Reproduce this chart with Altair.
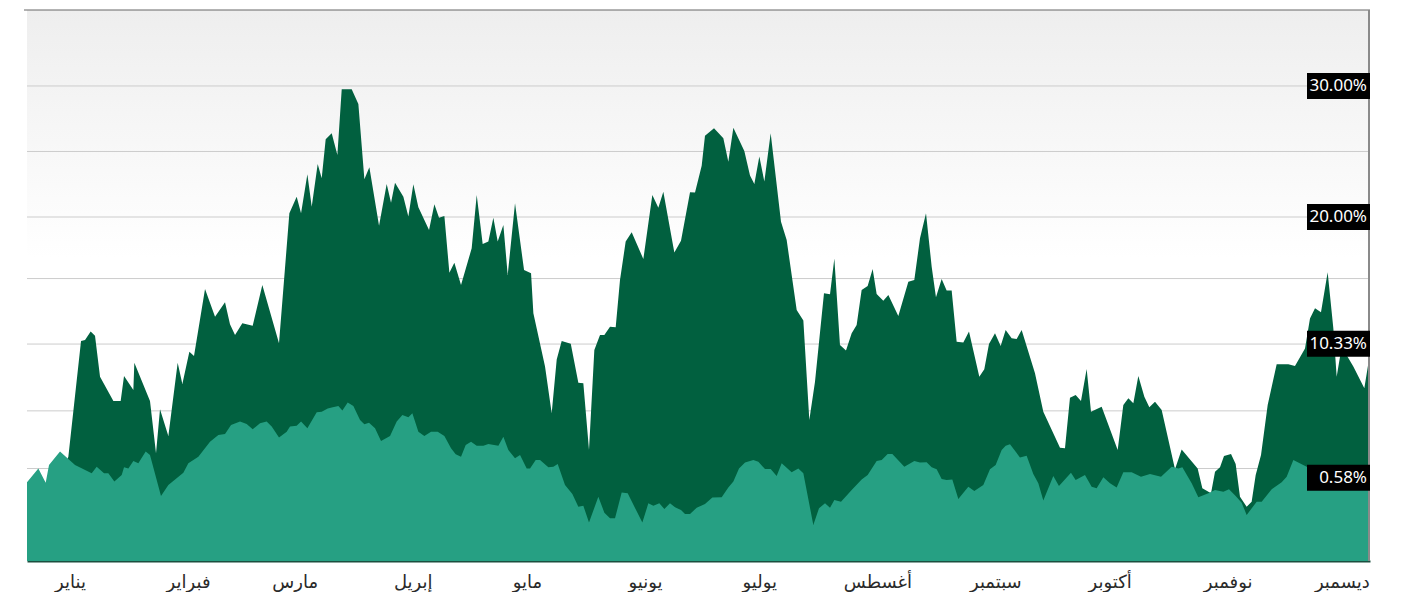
import altair as alt
import pandas as pd

# ---------------- data ----------------
dark_day = [3.7, 8.61, 13.68, 14.56, 17.89, 18.94, 20.42, 21.56, 22.88, 26.38, 28.30, 29.18,
            31.63, 31.89, 36.0, 37.58, 38.63, 40.82, 43.27, 44.5, 46.34, 47.56, 50.45, 53.08,
            55.70, 57.01, 58.33, 60.25, 62.97, 65.50, 69.88, 72.60, 74.52, 75.67, 77.33, 78.47,
            80.04, 81.09, 82.14, 83.72, 85.21, 86.35, 88.97, 90.72, 92.30, 93.61, 96.15, 98.16,
            99.30, 100.35, 102.54, 103.85, 105.16, 106.48, 109.28, 110.68, 111.91, 113.31, 114.62,
            115.93, 117.68, 120.48, 121.80, 123.37, 124.86, 126.17, 127.31, 128.80, 129.94, 131.86,
            134.23, 136.07, 136.68, 139.74, 141.49, 142.81, 144.12, 146.5, 148.49, 149.80, 151.29,
            152.69, 154.18, 155.32, 156.81, 158.30, 159.43, 160.92, 162.50, 165.56, 167.92, 169.50,
            170.81, 173.70, 175.45, 177.82, 179.13, 180.88, 181.75, 184.12, 186.57, 187.88, 189.20,
            192.08, 193.57, 194.71, 196.02, 197.34, 199.0, 201.71, 203.20, 205.83, 207.58, 209.15,
            210.64, 213.0, 214.58, 215.72, 217.20, 218.78, 220.27, 221.58, 222.89, 224.47, 225.78,
            226.83, 228.58, 229.90, 232.52, 235.15, 236.72, 238.21, 239.79, 241.28, 242.41, 243.90,
            245.21, 246.53, 247.84, 249.59, 251.08, 253.79, 255.10, 256.33, 257.91, 259.40, 260.71,
            262.28, 263.60, 264.91, 268.41, 270.60, 274.98, 276.29, 277.60, 279.09, 280.49, 281.98,
            283.12, 285.92, 290.13, 291.61, 292.93, 294.24, 295.55, 297.13, 298.44, 299.93, 301.68,
            305.18, 306.93, 311.13, 312.36, 314.64, 315.69, 317.0, 318.05, 319.89, 321.11, 322.25,
            324.0, 325.31, 326.37, 327.77, 329.52, 331.88, 334.94, 336.69, 339.32, 340.63, 341.95,
            343.52, 345.27, 346.76, 347.64, 348.95, 352.01, 354.90, 356.39]
dark_val = [-1.0, -1.0, 1.0, 1.70, 10.53, 10.61, 11.25, 10.94, 7.81, 5.95, 5.95, 7.86,
            6.79, 8.88, 5.95, 1.96, 5.32, 3.28, 8.88, 7.25, 9.72, 9.39, 14.50, 12.39,
            13.49, 11.81, 10.99, 11.88, 11.70, 14.81, 10.36, 20.28, 21.55, 20.28, 23.26, 20.79,
            24.05, 22.95, 25.93, 26.39, 24.73, 29.75, 29.75, 28.63, 22.88, 23.79, 19.34, 22.52,
            21.09, 22.62, 21.55, 20.03, 22.50, 20.74, 19.01, 20.97, 19.95, 20.08, 15.75,
            16.51, 14.81, 17.61, 21.68, 17.94, 18.12, 19.95, 18.12, 19.39, 15.57, 21.04,
            15.95, 15.70, 12.65, 8.58, 5.01, 9.13, 10.53, 10.33, 7.35, 7.30, 2.21,
            9.85, 11.0, 11.0, 11.63, 11.58, 15.19, 18.12, 18.83, 16.79, 21.68, 20.71,
            21.93, 17.28, 18.19, 21.88, 21.86, 23.92, 26.21, 26.77, 26.01, 24.22, 26.82,
            25.04, 23.16, 22.52, 24.61, 22.70, 26.39, 19.64, 18.24, 12.90, 12.09, 4.50,
            7.43, 14.17, 14.10, 16.84, 10.23, 9.80, 11.12, 11.76, 14.43, 14.73, 16.03,
            14.12, 13.61, 14.05, 12.44, 15.06, 15.19, 18.37, 20.28, 16.21, 13.87, 15.27,
            14.38, 14.38, 10.48, 10.41, 11.25, 7.81, 8.37, 10.31, 11.12, 10.15, 11.38,
            10.74, 10.69, 11.38, 8.07, 5.14, 2.39, 2.34, 6.21, 6.41, 5.95, 8.40,
            5.14, 5.52, 2.21, 5.65, 6.16, 5.78, 7.86, 6.28, 5.47, 5.90, 5.27,
            0.74, 2.26, 0.81, -0.71, -1.09, 0.56, 0.89, 1.76, 1.91, 1.15, -1.35,
            -2.11, -1.73, 0.31, 1.83, 5.65, 8.75, 8.75, 8.63, 9.97, 12.26, 13.03,
            12.72, 15.78, 11.50, 7.81, 10.10, 8.58, 6.92, 9.6]

light_day = [3.7, 6.68, 8.61, 9.48, 12.37, 16.31, 20.69, 22.0, 23.93, 25.06, 26.64, 28.57, 29.18,
             30.32, 31.63, 32.94, 34.87, 36.0, 38.89, 40.82, 44.76, 46.07, 48.70, 51.76, 53.95,
             55.70, 57.28, 59.64, 61.39, 62.97, 64.89, 66.64, 67.96, 69.88, 71.9, 72.77, 74.52,
             75.67, 77.33, 79.78, 81.09, 82.67, 83.72, 85.47, 86.52, 87.92, 89.41, 91.16, 92.30,
             93.52, 95.10, 96.67, 99.04, 100.79, 102.28, 103.85, 104.90, 106.48, 108.05, 109.80,
             111.56, 113.31, 115.06, 116.28, 117.68, 118.91, 120.31, 121.80, 123.55, 124.86, 127.49,
             128.80, 130.11, 131.86, 133.18, 134.93, 135.80, 137.29, 138.43, 140.62, 141.93, 143.07,
             144.99, 146.92, 148.49, 149.80, 151.29, 153.74, 155.32, 156.81, 158.12, 159.87, 161.45,
             165.30, 166.87, 168.19, 169.76, 171.08, 172.56, 173.88, 175.45, 176.50, 177.82, 179.57,
             181.75, 183.68, 186.13, 187.88, 189.20, 190.68, 192.26, 194.45, 195.76, 197.51, 199.0,
             200.57, 201.89, 204.51, 206.26, 207.58, 210.20, 211.69, 213.27, 214.58, 215.72, 217.47,
             220.27, 222.89, 224.47, 226.83, 228.15, 229.72, 230.95, 234.10, 236.72, 238.21, 239.96,
             241.28, 242.59, 243.90, 245.21, 246.70, 248.28, 250.90, 252.48, 254.84, 256.59, 258.08,
             259.66, 260.71, 261.85, 264.47, 266.22, 267.97, 269.29, 270.60, 273.22, 274.71, 277.86,
             279.09, 281.54, 283.29, 284.60, 286.36, 288.11, 289.86, 291.61, 293.80, 296.25, 298.62,
             301.51, 304.31, 306.06, 307.11, 309.56, 311.31, 313.94, 315.69, 317.88, 319.36, 321.11,
             322.69, 324.0, 326.63, 327.94, 330.57, 333.19, 334.51, 336.26, 339.76, 343.70, 347.64,
             349.83, 353.33, 356.39]
light_val = [-0.25, 0.81, -0.28, 1.07, 2.09, 1.07, 0.43, 0.94, 0.43, 0.43, -0.20, 0.31, 0.89,
             0.81, 1.37, 1.20, 2.09, 1.83, -1.30, -0.46, 0.48, 1.20, 1.70, 2.85, 3.36,
             3.44, 4.12, 4.38, 4.20, 3.79, 4.25, 4.38, 4.0, 3.16, 3.61, 4.0, 4.07,
             4.38, 3.87, 5.09, 5.14, 5.39, 5.45, 5.57, 5.22, 5.83, 5.57, 4.50, 4.17,
             4.30, 3.87, 2.90, 3.28, 4.38, 4.89, 4.71, 5.01, 3.61, 3.28, 3.61,
             3.61, 3.28, 2.34, 1.88, 1.70, 2.59, 2.85, 2.54, 2.54, 2.67, 2.54,
             3.23, 2.21, 1.58, 1.83, 0.81, 0.81, 1.45, 1.45, 0.89, 0.94, 1.15,
             -0.46, -1.15, -2.11, -2.04, -3.33, -1.35, -2.57, -3.00, -3.00, -1.04, -1.09,
             -3.33, -1.86, -2.04, -1.86, -2.29, -1.86, -2.16, -2.37, -2.67, -2.67, -2.19,
             -1.91, -1.42, -1.40, -0.64, -0.20, 0.81, 1.25, 1.45, 1.32, 0.76, 0.76,
             0.23, 1.20, 0.51, 0.81, 0.43, -3.51, -2.24, -1.86, -2.19, -1.60, -1.73,
             -0.84, -0.03, 0.31, 1.37, 1.45, 1.91, 1.91, 0.94, 1.37, 1.25, 1.27,
             0.89, 0.74, 0.0, -0.08, -0.03, -1.53, -0.59, -0.92, -0.46, 0.74, 1.07,
             2.21, 2.54, 2.65, 1.65, 1.78, 0.38, -0.33, -1.65, 0.23, -0.53, 0.48,
             -0.08, 0.31, -0.59, -0.71, 0.13, -0.33, -0.64, 0.51, 0.51, 0.18, 0.38,
             0.18, 0.94, 0.81, 0.89, -0.33, -1.40, -1.09, -0.84, -0.97, -0.79, -1.30,
             -1.81, -2.75, -1.73, -1.73, -0.79, -0.25, 0.18, 1.45, 0.94, 0.43, -0.46,
             0.05, -0.20, -0.71]

month_names = ["يناير", "فبراير", "مارس", "إبريل", "مايو", "يونيو",
               "يوليو", "أغسطس", "سبتمبر", "أكتوبر", "نوفمبر", "ديسمبر"]
month_mid_day = [15, 46, 74, 105, 135, 166, 196, 227, 258, 288, 319, 349]

grid_values = [30, 25, 20, 15.3, 10.3, 5.2, 0.8]
label_text = ["30.00%", "20.00%", "10.33%", "0.58%"]
label_pos = [30.0, 20.0, 10.33, 0.1]

# ---------------- chart ----------------
W, H = 1343, 551
Y_MIN, Y_MAX = -6.26, 35.8
X_MIN, X_MAX = 3.7, 356.39
DARK = "#01603f"
LIGHT = "#26a083"

x_scale = alt.Scale(domain=[X_MIN, X_MAX], nice=False, zero=False)
y_scale = alt.Scale(domain=[Y_MIN, Y_MAX], nice=False, zero=False)

names_js = "[" + ",".join("'" + m + "'" for m in month_names) + "]"
days_js = "[" + ",".join(str(d) for d in month_mid_day) + "]"
x_axis = alt.Axis(
    values=month_mid_day,
    labelExpr=f"{names_js}[indexof({days_js}, datum.value)]",
    title=None, ticks=False, grid=False,
    labelFont="DejaVu Sans", labelFontSize=18, labelColor="#2a2a2a",
    labelPadding=12, domainColor="#1b4f3f", domainWidth=2,
)

dark_df = pd.DataFrame({"d": dark_day, "v": dark_val})
light_df = pd.DataFrame({"d": light_day, "v": light_val})
grid_df = pd.DataFrame({"g": grid_values})
lab_df = pd.DataFrame({"t": label_text, "p": label_pos})

bg = alt.Chart(alt.Data(values=[{}])).mark_rect(
    color=alt.Gradient(
        gradient="linear", x1=0, y1=0, x2=0, y2=1,
        stops=[alt.GradientStop(offset=0, color="#eeeeee"),
               alt.GradientStop(offset=0.45, color="#ffffff"),
               alt.GradientStop(offset=1, color="#ffffff")],
    )
).encode(x=alt.value(0), x2=alt.value(W), y=alt.value(0), y2=alt.value(H))

grid = alt.Chart(grid_df).mark_rule(color="#cccccc", strokeWidth=1).encode(
    y=alt.Y("g:Q", scale=y_scale, axis=None)
)

dark_area = alt.Chart(dark_df).mark_area(color=DARK, opacity=1).encode(
    x=alt.X("d:Q", scale=x_scale, axis=x_axis),
    y=alt.Y("v:Q", scale=y_scale, axis=None),
    y2=alt.datum(Y_MIN),
)

light_area = alt.Chart(light_df).mark_area(color=LIGHT, opacity=1).encode(
    x=alt.X("d:Q", scale=x_scale, axis=x_axis),
    y=alt.Y("v:Q", scale=y_scale, axis=None),
    y2=alt.datum(Y_MIN),
)

top_border = alt.Chart(alt.Data(values=[{}])).mark_rule(color="#666666", strokeWidth=1).encode(
    x=alt.value(-3), x2=alt.value(W), y=alt.value(0)
)
right_border = alt.Chart(alt.Data(values=[{}])).mark_rule(color="#8a8a8a", strokeWidth=2).encode(
    x=alt.value(W - 1), y=alt.value(0), y2=alt.value(H)
)

boxes = alt.Chart(lab_df).mark_rect(color="black", opacity=1, yOffset=-13, y2Offset=13).encode(
    y=alt.Y("p:Q", scale=y_scale, axis=None),
    y2=alt.Y2("p:Q"),
    x=alt.value(W - 63),
    x2=alt.value(W),
)
texts = alt.Chart(lab_df).mark_text(
    align="right", baseline="middle", color="white", font="Noto Sans", fontSize=17
).encode(
    y=alt.Y("p:Q", scale=y_scale, axis=None),
    x=alt.value(W - 3),
    text="t:N",
)

chart = alt.layer(bg, grid, dark_area, light_area, top_border, right_border, boxes, texts).properties(
    width=W, height=H,
    padding={"left": 19, "top": 2, "right": 27, "bottom": 31},
    autosize=alt.AutoSizeParams(type="none"),
).configure_view(stroke=None)

chart.save("out.html", embed_options={"renderer": "svg", "actions": False})
